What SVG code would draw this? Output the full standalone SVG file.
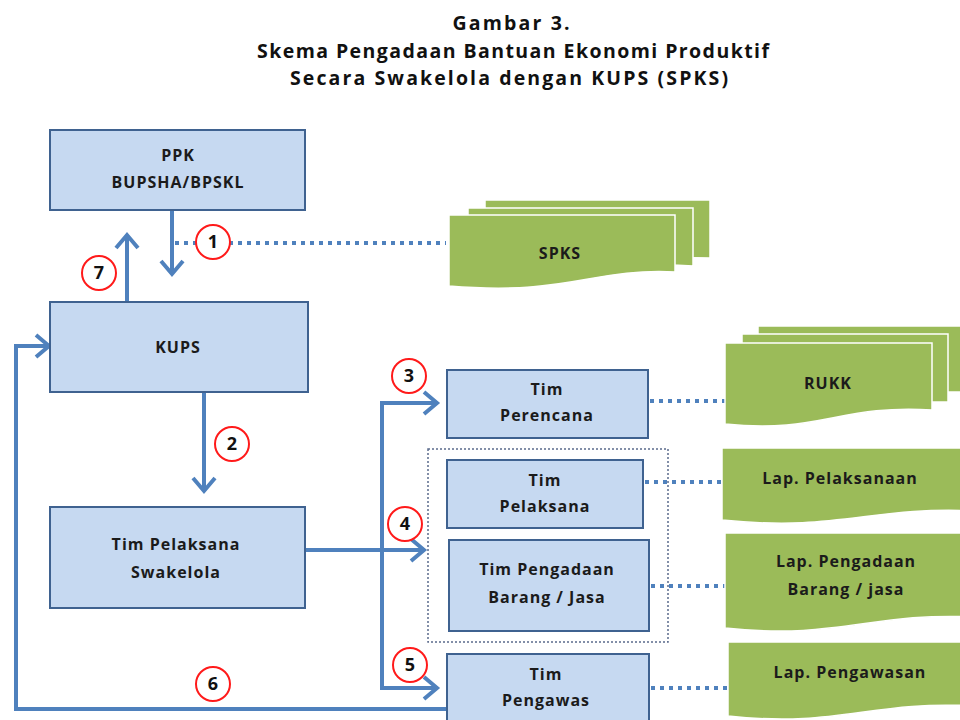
<svg xmlns="http://www.w3.org/2000/svg" width="960" height="720" viewBox="0 0 960 720">
  <style>
    .title { font-family: "Open Sans", "Liberation Sans", sans-serif; font-weight: 700; font-size: 19.5px; fill: #111; text-anchor: middle; }
    .box { fill: #c6d9f1; stroke: #3f6290; stroke-width: 2; }
    .lbl { font-family: "Open Sans", "Liberation Sans", sans-serif; font-weight: 700; font-size: 16px; letter-spacing: 1px; fill: #1b1b1b; text-anchor: middle; }
    .doc { fill: #9bbb59; stroke: #ffffff; stroke-width: 1.5; }
    .flow { fill: none; stroke: #4f81bd; stroke-width: 4; stroke-linejoin: miter; }
    .head { fill: none; stroke: #4f81bd; stroke-width: 4; stroke-linecap: butt; stroke-linejoin: miter; }
    .dots { fill: none; stroke: #4f81bd; stroke-width: 4; stroke-dasharray: 4 5; }
    .group { fill: none; stroke: #5b6b8c; stroke-width: 1.5; stroke-dasharray: 2 2; }
    .step { fill: #ffffff; stroke: #ff1a1a; stroke-width: 2; }
    .num { font-family: "Open Sans", "Liberation Sans", sans-serif; font-weight: 700; font-size: 18px; fill: #111; text-anchor: middle; }
  </style>

  <!-- title -->
  <g id="title">
    <text class="title" x="511" y="30" textLength="117" lengthAdjust="spacing">Gambar 3.</text>
    <text class="title" x="513" y="58" textLength="512" lengthAdjust="spacing">Skema Pengadaan Bantuan Ekonomi Produktif</text>
    <text class="title" x="509" y="85" textLength="438" lengthAdjust="spacing">Secara Swakelola dengan KUPS (SPKS)</text>
  </g>

  <!-- dotted links to documents -->
  <g id="doc-links">
    <line class="dots" x1="175" y1="243" x2="446" y2="243"/>
    <line class="dots" x1="650" y1="401" x2="727" y2="401"/>
    <line class="dots" x1="645" y1="482" x2="724" y2="482"/>
    <line class="dots" x1="651" y1="586" x2="727" y2="586"/>
    <line class="dots" x1="651" y1="688" x2="729" y2="688"/>
  </g>

  <!-- connectors -->
  <g id="connectors">
    <!-- 1: PPK down to KUPS -->
    <line class="flow" x1="172" y1="210" x2="172" y2="273"/>
    <polyline class="head" points="161,261 172,274 183,261"/>
    <!-- 7: KUPS up to PPK -->
    <line class="flow" x1="127" y1="302" x2="127" y2="236"/>
    <polyline class="head" points="116,248 127,235 138,248"/>
    <!-- 2: KUPS down to Tim Pelaksana Swakelola -->
    <line class="flow" x1="204" y1="392" x2="204" y2="490"/>
    <polyline class="head" points="193,478 204,491 215,478"/>
    <!-- 3, 4, 5: fan out to the teams -->
    <line class="flow" x1="305" y1="550" x2="423" y2="550"/>
    <polyline class="head" points="411,539 424,550 411,561"/>
    <polyline class="flow" points="436,403 382,403 382,688 436,688"/>
    <polyline class="head" points="424,392 437,403 424,414"/>
    <polyline class="head" points="424,677 437,688 424,699"/>
    <!-- 6: Tim Pengawas back to KUPS -->
    <polyline class="flow" points="447,709 16,709 16,346 48,346"/>
    <polyline class="head" points="36,335 49,346 36,357"/>
  </g>

  <!-- step numbers -->
  <g id="steps">
    <circle class="step" cx="213" cy="242" r="17"/><text class="num" x="213" y="248">1</text>
    <circle class="step" cx="232" cy="444" r="17"/><text class="num" x="232" y="450">2</text>
    <circle class="step" cx="409" cy="376" r="17"/><text class="num" x="409" y="382">3</text>
    <circle class="step" cx="405" cy="524" r="17"/><text class="num" x="405" y="530">4</text>
    <circle class="step" cx="410" cy="665" r="17"/><text class="num" x="410" y="671">5</text>
    <circle class="step" cx="213" cy="684" r="17"/><text class="num" x="213" y="690">6</text>
    <circle class="step" cx="99" cy="273" r="17"/><text class="num" x="99" y="279">7</text>
  </g>

  <!-- process boxes -->
  <g id="ppk">
    <rect class="box" x="50" y="130" width="255" height="80"/>
    <text class="lbl" x="178" y="161">PPK</text>
    <text class="lbl" x="178" y="188">BUPSHA/BPSKL</text>
  </g>
  <g id="kups">
    <rect class="box" x="50" y="302" width="258" height="90"/>
    <text class="lbl" x="178" y="353">KUPS</text>
  </g>
  <g id="tim-pelaksana-swakelola">
    <rect class="box" x="50" y="507" width="255" height="101"/>
    <text class="lbl" x="176" y="550">Tim Pelaksana</text>
    <text class="lbl" x="176" y="578">Swakelola</text>
  </g>

  <rect class="group" x="428" y="449" width="240" height="193"/>

  <g id="tim-perencana">
    <rect class="box" x="447" y="370" width="201" height="68"/>
    <text class="lbl" x="547" y="395">Tim</text>
    <text class="lbl" x="547" y="421">Perencana</text>
  </g>
  <g id="tim-pelaksana">
    <rect class="box" x="447" y="460" width="196" height="68"/>
    <text class="lbl" x="545" y="486">Tim</text>
    <text class="lbl" x="545" y="512">Pelaksana</text>
  </g>
  <g id="tim-pengadaan">
    <rect class="box" x="449" y="540" width="200" height="91"/>
    <text class="lbl" x="547" y="575">Tim Pengadaan</text>
    <text class="lbl" x="547" y="603">Barang / Jasa</text>
  </g>
  <g id="tim-pengawas">
    <rect class="box" x="447" y="654" width="202" height="80"/>
    <text class="lbl" x="546" y="680">Tim</text>
    <text class="lbl" x="546" y="706">Pengawas</text>
  </g>

  <!-- documents -->
  <g id="spks">
    <path class="doc" d="M485,200 H710 V258 C650,256 620,262 600,262 L485,262 Z"/>
    <path class="doc" d="M468,208 H693 V266 C640,262 610,270 580,270 L468,270 Z"/>
    <path class="doc" d="M449,215 H675 V272 C590,268 570,296 449,286 Z"/>
    <text class="lbl" x="560" y="259">SPKS</text>
  </g>
  <g id="rukk">
    <path class="doc" d="M758,326 H975 V392 L758,392 Z"/>
    <path class="doc" d="M742,334 H948 V402 L742,402 Z"/>
    <path class="doc" d="M725,343 H932 V410 C840,404 820,434 725,424 Z"/>
    <text class="lbl" x="828" y="389">RUKK</text>
  </g>
  <g id="lap-pelaksanaan">
    <path class="doc" d="M722,448 H975 V511 C870,506 840,532 722,520 Z"/>
    <text class="lbl" x="840" y="484">Lap. Pelaksanaan</text>
  </g>
  <g id="lap-pengadaan">
    <path class="doc" d="M725,533 H975 V617 C870,612 840,640 725,628 Z"/>
    <text class="lbl" x="846" y="567">Lap. Pengadaan</text>
    <text class="lbl" x="846" y="595">Barang / jasa</text>
  </g>
  <g id="lap-pengawasan">
    <path class="doc" d="M728,642 H975 V706 C870,700 840,728 728,716 Z"/>
    <text class="lbl" x="850" y="678">Lap. Pengawasan</text>
  </g>
</svg>
